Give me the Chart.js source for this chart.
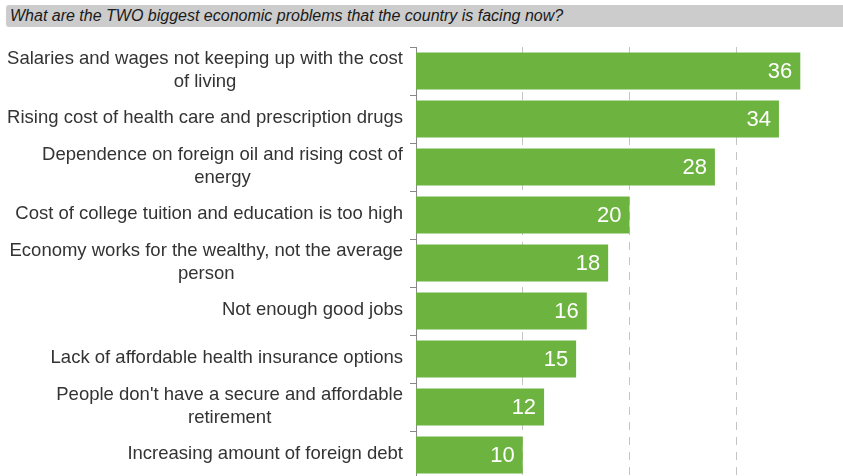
<!DOCTYPE html>
<html>
<head>
<meta charset="utf-8">
<script src="https://cdn.jsdelivr.net/npm/chart.js@4/dist/chart.umd.min.js"></script>
<style>
  html, body { margin: 0; padding: 0; background: #fff; overflow: hidden; }
  #wrap { position: relative; width: 843px; height: 480px; }
  #title {
    position: absolute; left: 6px; top: 5px; width: 833px; height: 22px;
    padding-left: 4px; background: #cccccc; border-radius: 3px 0 0 3px;
    font: italic 16px "Liberation Sans", Arial, sans-serif; line-height: 22px; color: #1a1a1a;
  }
</style>
</head>
<body>
<div id="wrap">
  <div id="title">What are the TWO biggest economic problems that the country is facing now?</div>
  <canvas id="chart" width="843" height="480"></canvas>
</div>
<script>
const categories = [
  ['Salaries and wages not keeping up with the cost', 'of living'],
  ['Rising cost of health care and prescription drugs'],
  ['Dependence on foreign oil and rising cost of', 'energy'],
  ['Cost of college tuition and education is too high'],
  ['Economy works for the wealthy, not the average', 'person'],
  ['Not enough good jobs'],
  ['Lack of affordable health insurance options'],
  ["People don't have a secure and affordable", 'retirement'],
  ['Increasing amount of foreign debt'],
];
const values = [36, 34, 28, 20, 18, 16, 15, 12, 10];
const gridTicks = [10, 20, 30];

const FONT = '"Liberation Sans", Arial, sans-serif';

// category labels: block right-aligned at the axis, lines centred inside it
const labelPlugin = {
  id: 'wrapLabels',
  afterDraw(chart) {
    const ctx = chart.ctx;
    const y = chart.scales.y;
    ctx.save();
    ctx.font = `18.5px ${FONT}`;
    ctx.fillStyle = '#333';
    ctx.textAlign = 'center';
    ctx.textBaseline = 'middle';
    categories.forEach((lines, i) => {
      const cy = y.getPixelForValue(i) - 1;
      const w = Math.max(...lines.map(l => ctx.measureText(l).width));
      const cx = y.right - 13 - w / 2;
      lines.forEach((l, j) => ctx.fillText(l, cx, cy + (j - (lines.length - 1) / 2) * 23));
    });

    ctx.font = `22px ${FONT}`;
    ctx.fillStyle = '#fff';
    ctx.textAlign = 'right';
    chart.getDatasetMeta(0).data.forEach((bar, i) => {
      ctx.fillText(values[i], bar.x - 8, bar.y + 1);
    });
    ctx.restore();
  }
};

new Chart(document.getElementById('chart'), {
  type: 'bar',
  data: {
    labels: categories,
    datasets: [{
      data: values,
      backgroundColor: '#6db33f',
      borderWidth: 0,
      barPercentage: 0.77,
      categoryPercentage: 1,
    }],
  },
  options: {
    indexAxis: 'y',
    responsive: false,
    animation: false,
    devicePixelRatio: 1,
    layout: { padding: { top: 47, right: 0, bottom: 1, left: 0 } },
    scales: {
      x: {
        min: 0,
        max: 40,
        afterBuildTicks: s => { s.ticks = gridTicks.map(v => ({ value: v })); },
        afterFit: s => { s.height = 0; },
        ticks: { display: false },
        grid: { color: '#c4c4c4', lineWidth: 1, drawTicks: false },
        border: { display: false, dash: [8, 7] },
      },
      y: {
        afterFit: s => { s.width = 416; },
        ticks: { display: false },
        grid: { drawOnChartArea: false, color: '#888', tickLength: 6, offset: true },
        border: { color: '#888', width: 1 },
      },
    },
    plugins: {
      legend: { display: false },
      tooltip: { enabled: false },
    },
  },
  plugins: [labelPlugin],
});
</script>
</body>
</html>
